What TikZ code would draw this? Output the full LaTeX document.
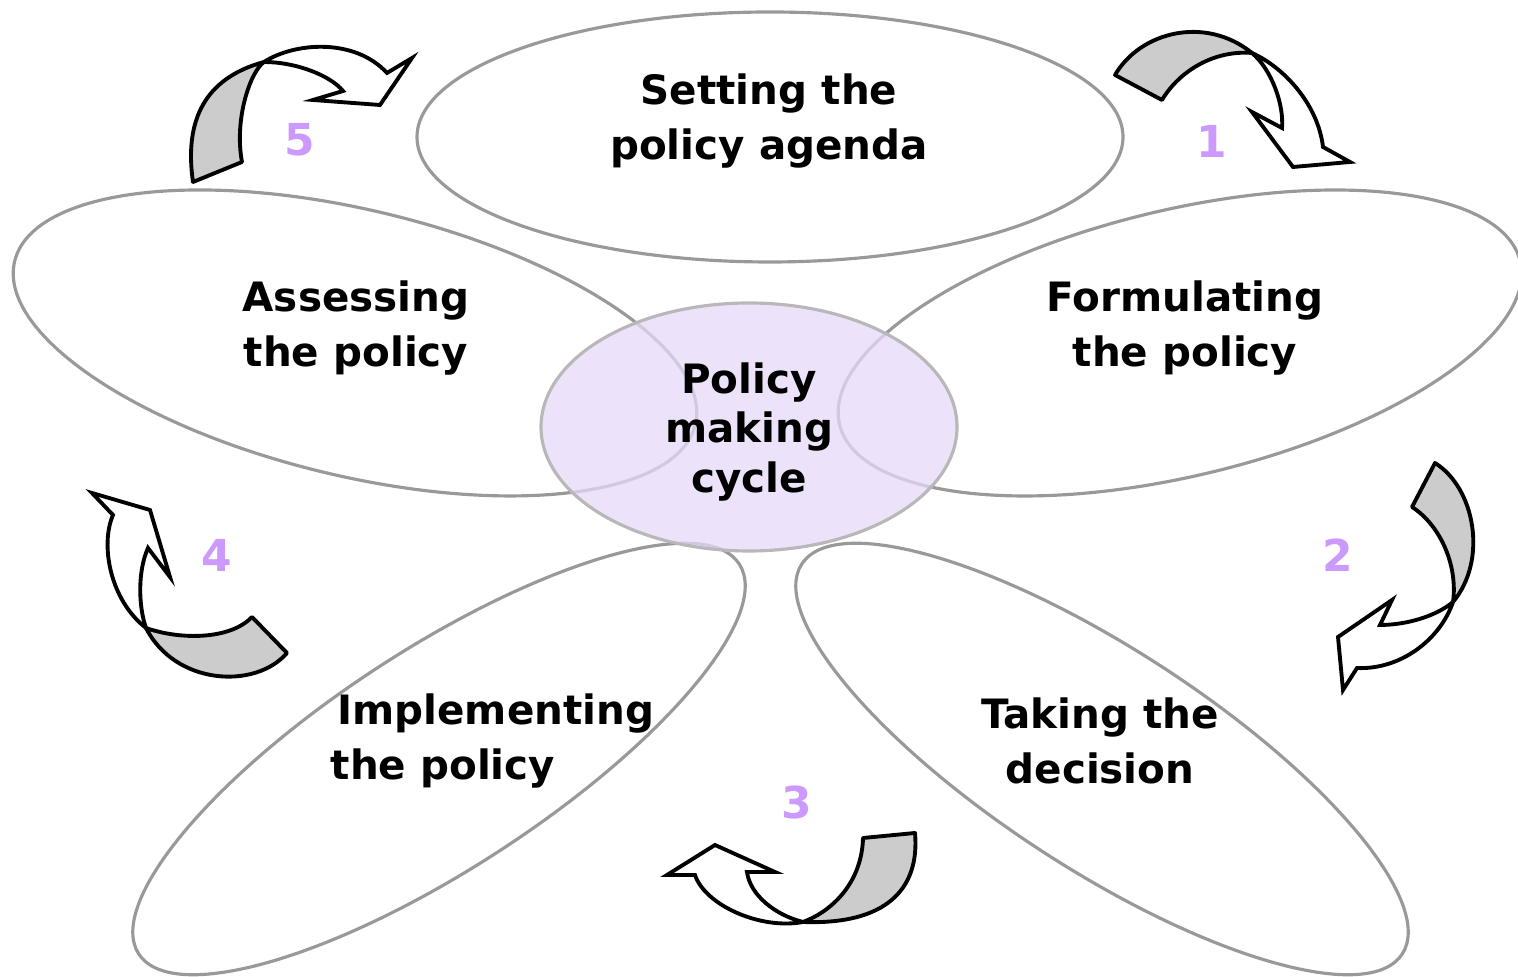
\documentclass[tikz,border=0pt]{standalone}
\usepackage{fontspec}
\setmainfont{DejaVu Sans}
\usepackage{tikz}
\usetikzlibrary{positioning,calc}
\definecolor{hubfill}{RGB}{230,218,250}
\definecolor{numcol}{RGB}{204,153,255}
\tikzset{
	petal/.style={draw=black!40,line width=0.9pt},
	hub/.style={draw=black!28,line width=0.9pt,fill=hubfill,fill opacity=0.75},
	lbl/.style={font=\bfseries\fontsize{11.5}{15.6}\selectfont,align=center,inner sep=0pt},
	num/.style={font=\bfseries\fontsize{12.5}{14}\selectfont,text=numcol,inner sep=0pt},
	backband/.style={draw=black,line width=1.1pt,fill=black!20,line join=round},
	frontband/.style={draw=black,line width=1.1pt,fill=white,line join=miter}
}

\begin{document}
\begin{tikzpicture}[x=0.01cm,y=-0.01cm]
\useasboundingbox (0,0) rectangle (1518,977);

%Centres des petales
\coordinate (ag) at (770,137);
\coordinate (as) at (355,343);
\coordinate (fo) at (1180,343);
\coordinate (im) at (439,759);
\coordinate (ta) at (1102,759);
\coordinate (cy) at (749,427);

%Petales
\draw[petal] (ag) ellipse [x radius=353,y radius=125];
\draw[petal,rotate around={-13.5:(as)}] (as) ellipse [x radius=350,y radius=133];
\draw[petal,rotate around={13.5:(fo)}] (fo) ellipse [x radius=350,y radius=133];
\draw[petal,rotate around={33:(im)}] (im) ellipse [x radius=358,y radius=110];
\draw[petal,rotate around={-33:(ta)}] (ta) ellipse [x radius=358,y radius=110];

%Centre
\draw[hub] (cy) ellipse [x radius=208,y radius=124];

%Textes
\node[lbl] (agenda) at (769,121) {Setting the\\policy agenda};
\node[lbl] (assess) at (356,328) {Assessing\\the policy};
\node[lbl] (formul) at (1185,328) {Formulating\\the policy};
\node[lbl,align=left,anchor=west] (implem) at (330,741) {\,Implementing\\the policy};
\node[lbl] (decide) at (1100,741) {Taking the\\decision};
\node[lbl,font=\bfseries\fontsize{11.5}{14.2}\selectfont] (cycle) at (749,432) {Policy\\making\\cycle};

%Numeros
\node[num] (n1) at (1212,141) {1};
\node[num] (n2) at (1338,555) {2};
\node[num] (n3) at (797,803) {3};
\node[num] (n4) at (217,555) {4};
\node[num] (n5) at (300,140) {5};

%Fleche 1
\filldraw[backband] (1115,75) .. controls (1140,32) and (1205,15) .. (1252,53)
	.. controls (1215,50) and (1180,70) .. (1162,100) -- cycle;
\filldraw[frontband] (1252,53) .. controls (1285,68) and (1318,105) .. (1323,147)
	-- (1350,162) -- (1293,167) -- (1252,112) -- (1282,128)
	.. controls (1284,105) and (1272,70) .. (1252,53) -- cycle;

%Fleche 2
\filldraw[backband] (1435,463) .. controls (1475,488) and (1488,560) .. (1453,602)
	.. controls (1458,565) and (1440,525) .. (1412,507) -- cycle;
\filldraw[frontband] (1453,602) .. controls (1440,640) and (1400,670) .. (1357,668)
	-- (1343,690) -- (1338,637) -- (1392,600) -- (1380,625)
	.. controls (1405,625) and (1435,617) .. (1453,602) -- cycle;

%Fleche 3
\filldraw[backband] (915,833) .. controls (920,890) and (885,925) .. (803,922)
	.. controls (835,910) and (862,880) .. (863,838) -- cycle;
\filldraw[frontband] (803,922) .. controls (760,930) and (705,905) .. (695,875)
	-- (667,875) -- (715,845) -- (775,872) -- (747,872)
	.. controls (750,895) and (775,915) .. (803,922) -- cycle;

%Fleche 4
\filldraw[backband] (287,653) .. controls (255,690) and (175,685) .. (146,628)
	.. controls (180,640) and (230,640) .. (252,617) -- cycle;
\filldraw[frontband] (146,628) .. controls (110,600) and (100,545) .. (113,515)
	-- (92,493) -- (150,510) -- (170,577) -- (148,548)
	.. controls (138,570) and (138,605) .. (146,628) -- cycle;

%Fleche 5
\filldraw[backband] (193,182) .. controls (184,120) and (205,78) .. (264,62)
	.. controls (250,72) and (234,120) .. (242,162) -- cycle;
\filldraw[frontband] (264,62) .. controls (295,42) and (355,38) .. (387,73)
	-- (412,58) -- (380,105) -- (313,100) -- (343,91)
	.. controls (330,75) and (295,62) .. (264,62) -- cycle;

\end{tikzpicture}
\end{document}
